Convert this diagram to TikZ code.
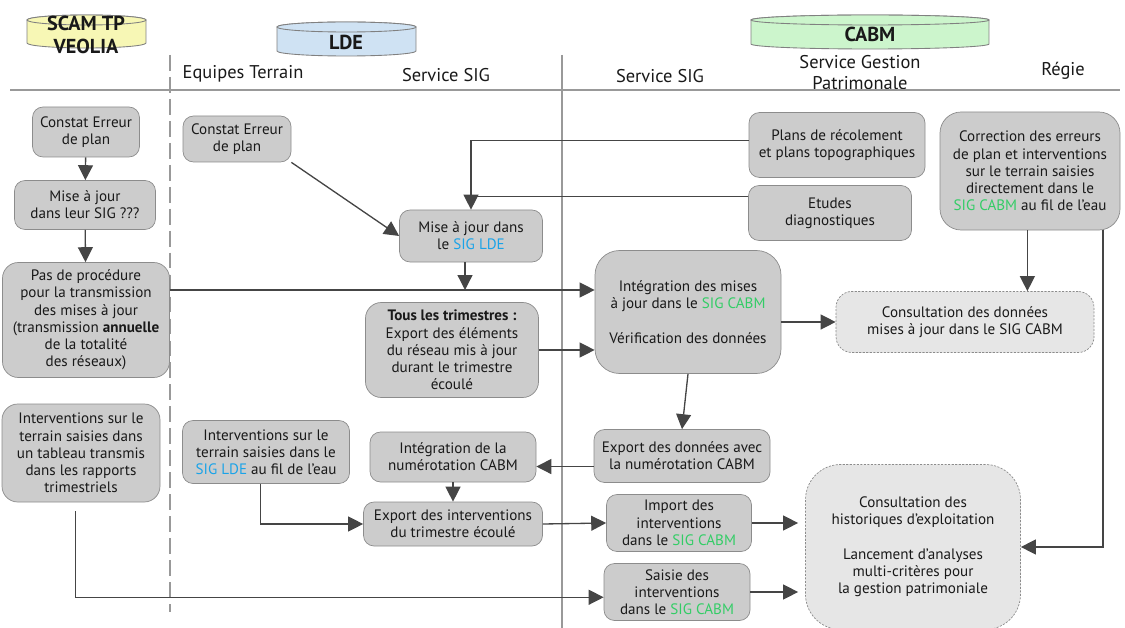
\documentclass[tikz,border=0pt]{standalone}
\usepackage{fontspec}
\setmainfont{PT Sans}
\usepackage{tikz}
\usetikzlibrary{arrows.meta,positioning}

\definecolor{boxfill}{HTML}{CCCCCC}
\definecolor{boxline}{HTML}{8C8C8C}
\definecolor{softfill}{HTML}{E6E6E6}
\definecolor{lineg}{HTML}{454545}
\definecolor{ldeblue}{HTML}{1AA3E8}
\definecolor{cabmgreen}{HTML}{33CC66}
\definecolor{ylw}{HTML}{F7F7B5}
\definecolor{blu}{HTML}{CFE2F3}
\definecolor{grn}{HTML}{CCF5CC}

\newcommand{\siglde}{\textcolor{ldeblue}{SIG LDE}}
\newcommand{\sigcabm}{\textcolor{cabmgreen}{SIG CABM}}

\begin{document}
\begin{tikzpicture}[
		x=0.02cm, y=-0.02cm
		,every node/.append style={font=\fontsize{8.6}{9.8}\selectfont, align=center, inner sep=1pt, text=black!90}
		,box/.style={draw=boxline, fill=boxfill, rounded corners=6pt}
		,soft/.style={draw=boxline, fill=softfill, dash pattern=on 1.2pt off 0.8pt, rounded corners=9pt}
		,sz/.style 2 args={minimum width=#1*0.02cm, minimum height=#2*0.02cm}
		,link/.style={draw=lineg, line width=0.75pt, -{Triangle[length=8.5pt,width=8.5pt]}}
		,plain/.style={draw=lineg, line width=0.75pt}
		,sep/.style={draw=gray!80, line width=0.6pt}
		,cyl/.style={draw=gray, line width=0.5pt}
		,hd/.style={font=\fontsize{10.5}{12}\selectfont}
		,org/.style={font=\fontsize{11.5}{13}\selectfont\bfseries}
	]
		\useasboundingbox (0,0) rectangle (1125,628);

		% organisations
		\draw[cyl, fill=ylw] (27,20) -- (27,43) arc[start angle=180, end angle=360, x radius=1.19cm, y radius=0.1cm] -- (146,20) arc[start angle=0, end angle=180, x radius=1.19cm, y radius=0.1cm] -- cycle;
		\draw[cyl, fill=ylw] (86.5,20) ellipse [x radius=1.19cm, y radius=0.1cm];
		\draw[cyl, fill=blu] (277,27) -- (277,51) arc[start angle=180, end angle=360, x radius=1.39cm, y radius=0.1cm] -- (416,27) arc[start angle=0, end angle=180, x radius=1.39cm, y radius=0.1cm] -- cycle;
		\draw[cyl, fill=blu] (346.5,27) ellipse [x radius=1.39cm, y radius=0.1cm];
		\draw[cyl, fill=grn] (751,20) -- (751,44) arc[start angle=180, end angle=360, x radius=2.38cm, y radius=0.1cm] -- (989,20) arc[start angle=0, end angle=180, x radius=2.38cm, y radius=0.1cm] -- cycle;
		\draw[cyl, fill=grn] (870,20) ellipse [x radius=2.38cm, y radius=0.1cm];
		\node[org] (scam) at (86,35) {SCAM TP\\VEOLIA};
		\node[org] (lde) at (346,42) {LDE};
		\node[org] (cabm) at (870,34) {CABM};

		% colonnes
		\node[hd] (colEq) at (243,74) {Equipes Terrain};
		\node[hd] (colSigL) at (446,75) {Service SIG};
		\node[hd] (colSigC) at (660,76) {Service SIG};
		\node[hd] (colGest) at (860,73) {Service Gestion\\Patrimonale};
		\node[hd] (colReg) at (1063,71) {Régie};
		\draw[sep] (10,90) -- (1120,90);
		\draw[sep, dash pattern=on 9pt off 3.5pt] (170,55) -- (170,612);
		\draw[sep] (562,55) -- (562,628);

		% SCAM TP VEOLIA
		\node[box, sz={107}{50}] (errSc) at (86,132) {Constat Erreur\\de plan};
		\node[box, sz={141}{49}] (majSc) at (85,205) {Mise à jour\\dans leur SIG ???};
		\node[box, sz={167}{115}, rounded corners=9pt] (procSc) at (86,320) {Pas de procédure\\pour la transmission\\des mises à jour\\(transmission \textbf{annuelle}\\de la totalité\\des réseaux)};
		\node[box, sz={158}{98}, rounded corners=9pt] (intSc) at (81,453) {Interventions sur le\\terrain saisies dans\\un tableau transmis\\dans les rapports\\trimestriels};

		% LDE
		\node[box, sz={108}{46}] (errEq) at (237,139) {Constat Erreur\\de plan};
		\node[box, sz={143}{52}] (majLde) at (471,236) {Mise à jour dans\\le \siglde};
		\node[box, sz={173}{95}, rounded corners=9pt] (trim) at (452,350) {\textbf{Tous les trimestres :}\\Export des éléments\\du réseau mis à jour\\durant le trimestre\\écoulé};
		\node[box, sz={167}{63}] (intEq) at (266,452) {Interventions sur le\\terrain saisies dans le\\\siglde{} au fil de l'eau};
		\node[box, sz={166}{50}] (num) at (453,457) {Intégration de la\\numérotation CABM};
		\node[box, sz={179}{44}] (expInt) at (453,524) {Export des interventions\\du trimestre écoulé};

		% CABM
		\node[box, sz={176}{65}] (plans) at (837,145) {Plans de récolement\\et plans topographiques};
		\node[box, sz={163}{55}] (etudes) at (830,213) {Etudes\\diagnostiques};
		\node[box, sz={180}{118}, rounded corners=12pt] (corr) at (1030,171) {Correction des erreurs\\de plan et interventions\\sur le terrain saisies\\directement dans le\\\sigcabm{} au fil de l'eau};
		\node[box, sz={186}{123}, rounded corners=14pt] (integ) at (688,312) {Intégration des mises\\à jour dans le \sigcabm\\[9.8pt]Vérification des données};
		\node[soft, sz={258}{61}] (consult) at (965,322) {Consultation des données\\mises à jour dans le SIG CABM};
		\node[box, sz={176}{53}] (expDon) at (682,456) {Export des données avec\\la numérotation CABM};
		\node[box, sz={145}{57}] (import) at (679,523) {Import des\\interventions\\dans le \sigcabm};
		\node[box, sz={146}{57}] (saisie) at (677,592) {Saisie des\\interventions\\dans le \sigcabm};
		\node[soft, sz={215}{165}, rounded corners=20pt] (histo) at (913,547) {Consultation des\\historiques d'exploitation\\[9.8pt]Lancement d'analyses\\multi-critères pour\\la gestion patrimoniale};

		% flux
		\draw[link] (errSc) -- (majSc);
		\draw[link] (majSc) -- (procSc);
		\draw[link] (errEq.south east) -- (majLde.west);
		\draw[link] ([yshift=2.5pt]plans.west) -| (majLde.north);
		\draw[plain] ([yshift=9.5pt]etudes.west) -- ([yshift=9.5pt]etudes.west -| majLde.north);
		\coordinate (feed) at (465,290);
		\draw[link] (majLde.south -| feed) -- (feed);
		\draw[link] (procSc.east |- feed) -- (integ.west |- feed);
		\draw[link] (trim.east) -- (trim.east -| integ.west);
		\draw[link] (integ.east |- consult.west) -- (consult.west);
		\draw[link] ([xshift=-1.5pt]corr.south) -- ([xshift=-1.5pt]corr.south |- consult.north);
		\draw[link] ([xshift=41.5pt]corr.south) |- (histo.east);
		\draw[link] (integ.south) -- (expDon.north);
		\draw[link] ([yshift=-6pt]expDon.west) -- ([yshift=-6pt]expDon.west -| num.east);
		\draw[link] (num.south) -- (expInt.north);
		\draw[link] ([xshift=-3pt]intEq.south) |- (expInt.west);
		\draw[link] (expInt.east) -- (import.west);
		\draw[link] (import.east) -- ([xshift=-4pt]import.east -| histo.west);
		\draw[link] (saisie.east) -- ([xshift=-4pt]saisie.east -| histo.west);
		\draw[link] ([xshift=-3pt,yshift=-5pt]intSc.south) |- ([yshift=-3pt]saisie.west);
	\end{tikzpicture}
\end{document}
